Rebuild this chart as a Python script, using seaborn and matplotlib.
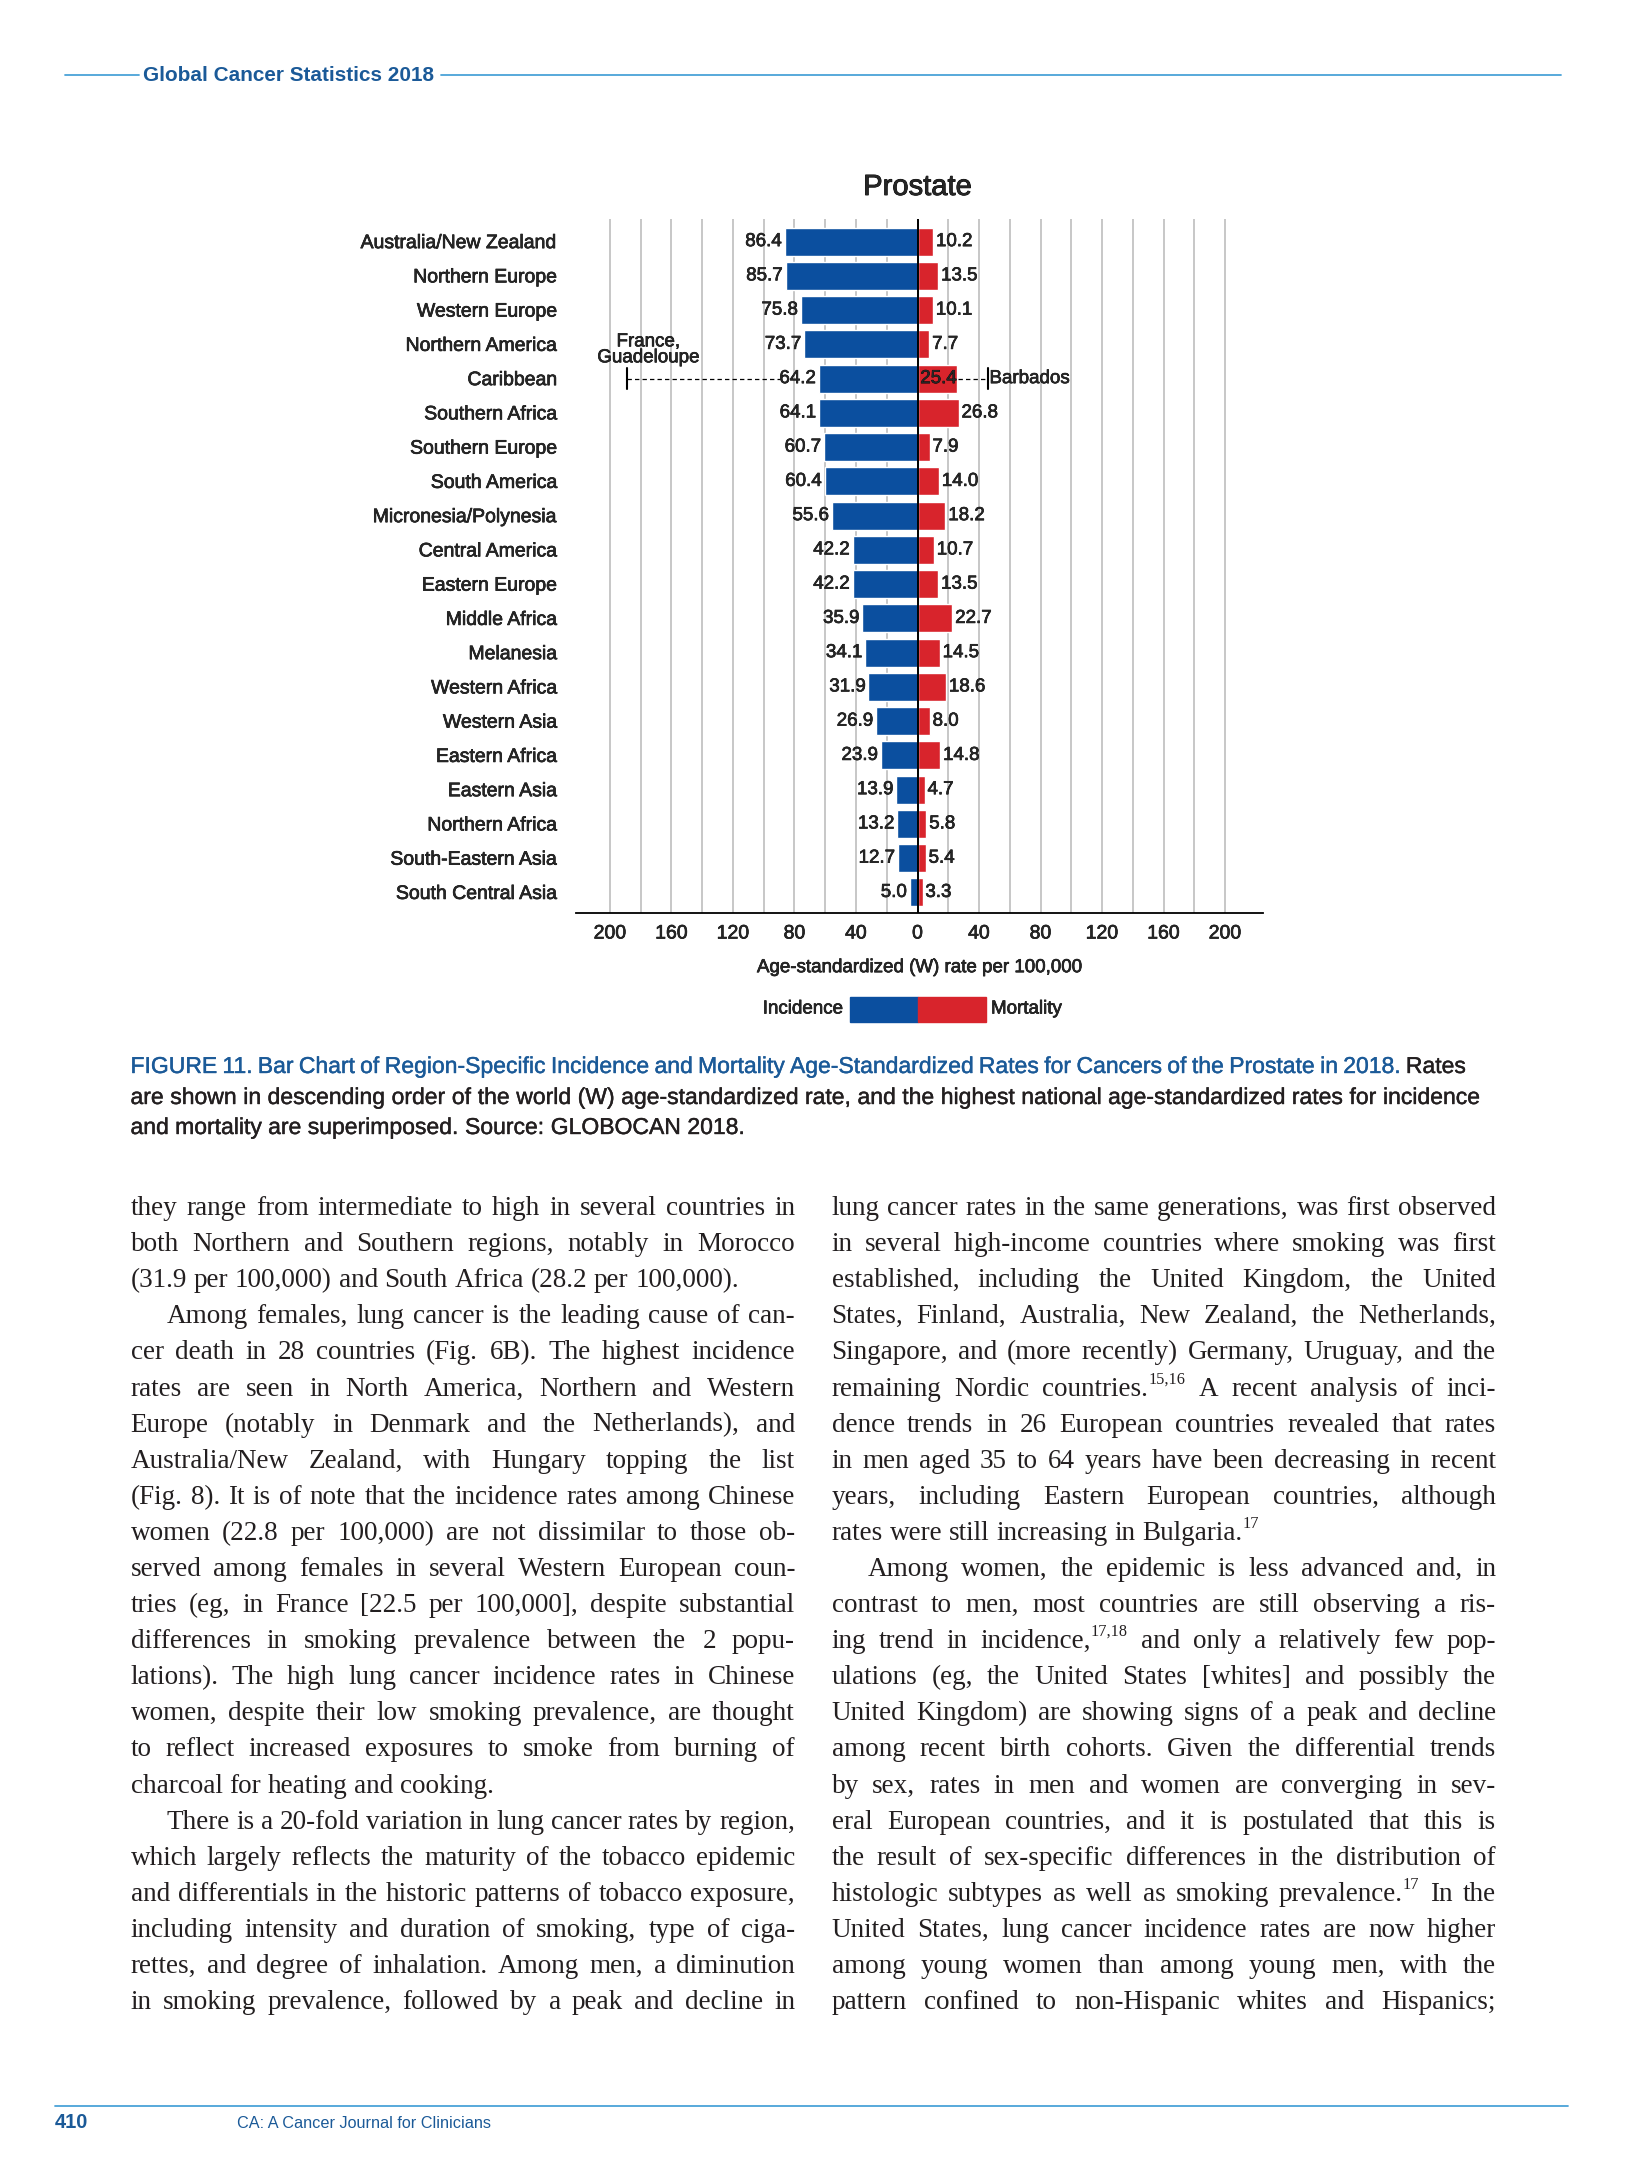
import matplotlib
matplotlib.use("Agg")
import matplotlib.pyplot as plt
import matplotlib.patheffects as pe
import seaborn as sns
from matplotlib import font_manager
from matplotlib.patches import Rectangle
from matplotlib.lines import Line2D

W, H = 1626, 2175

# ---- chart data (GLOBOCAN 2018, prostate) ----
regions = ["Australia/New Zealand", "Northern Europe", "Western Europe", "Northern America",
           "Caribbean", "Southern Africa", "Southern Europe", "South America",
           "Micronesia/Polynesia", "Central America", "Eastern Europe", "Middle Africa",
           "Melanesia", "Western Africa", "Western Asia", "Eastern Africa", "Eastern Asia",
           "Northern Africa", "South-Eastern Asia", "South Central Asia"]
incidence = [86.4, 85.7, 75.8, 73.7, 64.2, 64.1, 60.7, 60.4, 55.6, 42.2,
             42.2, 35.9, 34.1, 31.9, 26.9, 23.9, 13.9, 13.2, 12.7, 5.0]
mortality = [10.2, 13.5, 10.1, 7.7, 25.4, 26.8, 7.9, 14.0, 18.2, 10.7,
             13.5, 22.7, 14.5, 18.6, 8.0, 14.8, 4.7, 5.8, 5.4, 3.3]

# highest national rates, drawn on the Caribbean row
peak_region = "Caribbean"
peak_inc_name = "France,\nGuadeloupe"
peak_inc = 189.1
peak_mort_name = "Barbados"
peak_mort = 46.0

major_ticks = list(range(-200, 201, 40))
minor_ticks = list(range(-200, 201, 20))

BLUE = "#0b4f9f"
RED = "#d8242c"
PAGE_BLUE = "#1b5a98"
RULE_BLUE = "#4aa3d8"
INK = "#231f20"

# ---- page text ----
header = "Global Cancer Statistics 2018"
caption_blue = "FIGURE 11. Bar Chart of Region-Specific Incidence and Mortality Age-Standardized Rates for Cancers of the Prostate in 2018."
caption_lines = [
    "Rates",
    "are shown in descending order of the world (W) age-standardized rate, and the highest national age-standardized rates for incidence",
    "and mortality are superimposed. Source: GLOBOCAN 2018.",
]
left_col = [
    "they range from intermediate to high in several countries in",
    "both Northern and Southern regions, notably in Morocco",
    "(31.9 per 100,000) and South Africa (28.2 per 100,000).",
    "Among females, lung cancer is the leading cause of can-",
    "cer death in 28 countries (Fig. 6B). The highest incidence",
    "rates are seen in North America, Northern and Western",
    "Europe (notably in Denmark and the Netherlands), and",
    "Australia/New Zealand, with Hungary topping the list",
    "(Fig. 8). It is of note that the incidence rates among Chinese",
    "women (22.8 per 100,000) are not dissimilar to those ob-",
    "served among females in several Western European coun-",
    "tries (eg, in France [22.5 per 100,000], despite substantial",
    "differences in smoking prevalence between the 2 popu-",
    "lations). The high lung cancer incidence rates in Chinese",
    "women, despite their low smoking prevalence, are thought",
    "to reflect increased exposures to smoke from burning of",
    "charcoal for heating and cooking.",
    "There is a 20-fold variation in lung cancer rates by region,",
    "which largely reflects the maturity of the tobacco epidemic",
    "and differentials in the historic patterns of tobacco exposure,",
    "including intensity and duration of smoking, type of ciga-",
    "rettes, and degree of inhalation. Among men, a diminution",
    "in smoking prevalence, followed by a peak and decline in",
]
left_indent = {3, 17}
left_last = {2, 16}
right_col = [
    "lung cancer rates in the same generations, was first observed",
    "in several high-income countries where smoking was first",
    "established, including the United Kingdom, the United",
    "States, Finland, Australia, New Zealand, the Netherlands,",
    "Singapore, and (more recently) Germany, Uruguay, and the",
    "remaining Nordic countries.^15,16 A recent analysis of inci-",
    "dence trends in 26 European countries revealed that rates",
    "in men aged 35 to 64 years have been decreasing in recent",
    "years, including Eastern European countries, although",
    "rates were still increasing in Bulgaria.^17",
    "Among women, the epidemic is less advanced and, in",
    "contrast to men, most countries are still observing a ris-",
    "ing trend in incidence,^17,18 and only a relatively few pop-",
    "ulations (eg, the United States [whites] and possibly the",
    "United Kingdom) are showing signs of a peak and decline",
    "among recent birth cohorts. Given the differential trends",
    "by sex, rates in men and women are converging in sev-",
    "eral European countries, and it is postulated that this is",
    "the result of sex-specific differences in the distribution of",
    "histologic subtypes as well as smoking prevalence.^17 In the",
    "United States, lung cancer incidence rates are now higher",
    "among young women than among young men, with the",
    "pattern confined to non-Hispanic whites and Hispanics;",
]
right_indent = {10}
right_last = {9}

sns.set_style("white")
plt.rcParams["font.family"] = ["Liberation Sans", "DejaVu Sans"]

installed = {f.name for f in font_manager.fontManager.ttflist}
NARROW = ["Liberation Sans Narrow"] if "Liberation Sans Narrow" in installed else ["Liberation Sans"]
SANS = ["Liberation Sans", "DejaVu Sans"]
SERIF = ["Liberation Serif", "DejaVu Serif"]

fig = plt.figure(figsize=(W / 100, H / 100), dpi=100)
renderer = fig.canvas.get_renderer()
heavy = [pe.withStroke(linewidth=0.45, foreground="black")]


def fx(px):
    return px / W


def fy(py):
    return 1 - py / H


def measure(s, **kw):
    t = fig.text(0, 0, s, **kw)
    w = t.get_window_extent(renderer).width
    t.remove()
    return w


def space_width(size, family):
    return measure("a a", fontsize=size, family=family) - measure("aa", fontsize=size, family=family)


def fit_size(lines, size, family, squeeze):
    # largest size where every line fits with its spaces squeezed to `squeeze`
    sp = space_width(size, family)
    worst = 0
    for words, avail in lines:
        ww = sum(measure(w.split("^")[0], fontsize=size, family=family) for w in words)
        worst = max(worst, (ww + squeeze * sp * (len(words) - 1)) / avail)
    return size / worst


def set_line(tokens, x0, x1, base, justify, size, family, stroke=None):
    # tokens: (word, color, weight); "word^sup" gives a superscript
    pieces = []
    total = 0
    for word, color, weight in tokens:
        main, _, sup = word.partition("^")
        kw = dict(fontsize=size, family=family, color=color, weight=weight)
        w = measure(main, **kw)
        ws = measure(sup, **{**kw, "fontsize": size * 0.6}) + 1 if sup else 0
        pieces.append((main, sup, kw, w, ws))
        total += w + ws
    if justify and len(pieces) > 1:
        gap = (x1 - x0 - total) / (len(pieces) - 1)
    else:
        gap = space_width(size, family)
    x = x0
    for main, sup, kw, w, ws in pieces:
        t = fig.text(fx(x), fy(base), main, ha="left", va="baseline", **kw)
        if stroke:
            t.set_path_effects([pe.withStroke(linewidth=stroke, foreground=kw["color"])])
        if sup:
            fig.text(fx(x + w), fy(base - 0.45 * size * 100 / 72), sup, ha="left", va="baseline",
                     **{**kw, "fontsize": size * 0.6})
        x += w + ws + gap


# ---- header and footer ----
fig.add_artist(Line2D([fx(65), fx(139)], [fy(75)] * 2, color=RULE_BLUE, lw=1.3))
fig.add_artist(Line2D([fx(441), fx(1561)], [fy(75)] * 2, color=RULE_BLUE, lw=1.3))
hsize = 14 * 291 / measure(header, fontsize=14, family=NARROW, weight="bold")
fig.text(fx(143), fy(75.5), header, fontsize=hsize, family=NARROW, weight="bold",
         color=PAGE_BLUE, ha="left", va="center")

fig.add_artist(Line2D([fx(55), fx(1568)], [fy(2106)] * 2, color=RULE_BLUE, lw=1.3))
fig.text(fx(55), fy(2123), "410", fontsize=14.5, family=NARROW, weight="bold",
         color=PAGE_BLUE, ha="left", va="center")
journal = "CA: A Cancer Journal for Clinicians"
jsize = 11 * 253 / measure(journal, fontsize=11, family=NARROW)
fig.text(fx(237), fy(2124), journal, fontsize=jsize, family=NARROW,
         color=PAGE_BLUE, ha="left", va="center")

# ---- chart ----
ax = fig.add_axes([fx(576), fy(913), 687 / W, 694 / H])
sns.barplot(x=[-v for v in incidence], y=regions, color=BLUE, saturation=1,
            width=0.82, errorbar=None, orient="h", ax=ax)
sns.barplot(x=mortality, y=regions, color=RED, saturation=1,
            width=0.82, errorbar=None, orient="h", ax=ax)

ax.set_xlim(-222.1, 224.7)
ax.set_ylim(19.6, -0.66)
ax.set_xticks(major_ticks)
ax.set_xticks(minor_ticks, minor=True)
ax.set_xticklabels([str(abs(t)) for t in major_ticks], fontsize=14)
ax.grid(axis="x", which="both", color="#b8b8b8", lw=1.1)
ax.set_axisbelow(True)
ax.tick_params(axis="both", which="both", length=0)
ax.tick_params(axis="x", pad=9)
ax.tick_params(axis="y", pad=13, labelsize=14)
for side in ["left", "top", "right"]:
    ax.spines[side].set_visible(False)
ax.spines["bottom"].set_color("black")
ax.spines["bottom"].set_linewidth(1.3)
ax.axvline(0, color="black", lw=1.4, zorder=3)
ax.set_ylabel("")
xl = ax.set_xlabel("Age-standardized (W) rate per 100,000", fontsize=13.5, labelpad=12)
xl.set_path_effects(heavy)
for t in ax.get_xticklabels() + ax.get_yticklabels():
    t.set_path_effects(heavy)
fig.text(fx(917.5), fy(187), "Prostate", fontsize=21, ha="center", va="center",
         path_effects=[pe.withStroke(linewidth=0.6, foreground="black")])

for i, (reg, inc, mort) in enumerate(zip(regions, incidence, mortality)):
    ax.annotate(f"{inc:.1f}", (-inc, i), xytext=(-2, 0), textcoords="offset points",
                ha="right", va="center", fontsize=13.5, path_effects=heavy)
    mx = 0 if reg == peak_region else mort
    ax.annotate(f"{mort:.1f}", (mx, i), xytext=(2, 0), textcoords="offset points",
                ha="left", va="center", fontsize=13.5, zorder=5, path_effects=heavy)

row = regions.index(peak_region)
dash = (0, (3.5, 2.5))
ax.plot([-peak_inc, -(incidence[row] + 25)], [row, row], color="black", lw=0.9, ls=dash)
ax.plot([-peak_inc] * 2, [row - 0.3, row + 0.3], color="black", lw=1.5)
ax.text(-peak_inc + 14, row - 0.36, peak_inc_name, ha="center", va="bottom",
        fontsize=13.5, linespacing=0.92, path_effects=heavy)
ax.plot([mortality[row] + 1, peak_mort], [row, row], color="black", lw=0.9, ls=dash, zorder=4)
ax.plot([peak_mort] * 2, [row - 0.3, row + 0.3], color="black", lw=1.5, zorder=4)
ax.text(peak_mort + 0.8, row, peak_mort_name, ha="left", va="center", fontsize=13.5,
        path_effects=heavy)

# legend
fig.add_artist(Rectangle((fx(849.5), fy(1022)), 68 / W, 25 / H, color=BLUE))
fig.add_artist(Rectangle((fx(917.5), fy(1022)), 68 / W, 25 / H, color=RED))
fig.text(fx(843), fy(1009), "Incidence", ha="right", va="center", fontsize=13.5, path_effects=heavy)
fig.text(fx(991), fy(1009), "Mortality", ha="left", va="center", fontsize=13.5, path_effects=heavy)

# ---- caption ----
cap_words = [caption_blue.split() + caption_lines[0].split(), caption_lines[1].split()]
cap_size = fit_size([(cap_words[0], 1466 - 130.5), (cap_words[1], 1480 - 130.5)], 16, SANS, 0.8)
first = [(w, PAGE_BLUE, "normal") for w in caption_blue.split()] + \
        [(w, INK, "normal") for w in caption_lines[0].split()]
set_line(first, 130.5, 1466, 1073, True, cap_size, SANS, stroke=0.3)
set_line([(w, INK, "normal") for w in caption_lines[1].split()], 130.5, 1480, 1104, True,
         cap_size, SANS, stroke=0.3)
set_line([(w, INK, "normal") for w in caption_lines[2].split()], 130.5, 1480, 1134, False,
         cap_size, SANS, stroke=0.3)

# ---- body text ----
lead = 36.1
indent = 36
columns = [(left_col, left_indent, left_last, 130.5, 795),
           (right_col, right_indent, right_last, 831.5, 1496)]

fit_lines = []
for lines, ind, last, x0, x1 in columns:
    for k, line in enumerate(lines):
        if k not in last:
            fit_lines.append((line.split(), x1 - x0 - (indent if k in ind else 0)))
body_size = min(19.5, fit_size(fit_lines, 18, SERIF, 0.35))

for lines, ind, last, x0, x1 in columns:
    for k, line in enumerate(lines):
        base = 1215 + k * lead
        start = x0 + (indent if k in ind else 0)
        toks = [(w, INK, "normal") for w in line.split()]
        set_line(toks, start, x1, base, k not in last, body_size, SERIF)

fig.savefig("out.png", dpi=100, facecolor="white")
